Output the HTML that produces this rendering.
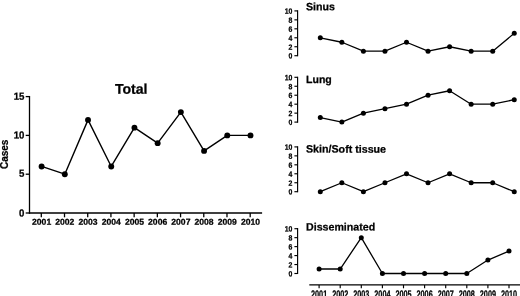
<!DOCTYPE html><html><head><meta charset="utf-8"><title>Cases by year</title><style>html,body{margin:0;padding:0;background:#fff}svg{display:block;filter:grayscale(1)}text{font-family:"Liberation Sans",sans-serif;font-weight:bold;fill:#000;stroke:#000;stroke-width:.25px}</style></head><body>
<svg width="520" height="296" viewBox="0 0 520 296">
<rect width="520" height="296" fill="#fff"/>
<line x1="29.5" y1="95.95" x2="29.5" y2="213.65" stroke="#000" stroke-width="1.3"/>
<line x1="25.7" y1="213" x2="29.5" y2="213" stroke="#000" stroke-width="1.3"/>
<text transform="translate(24.5,216.4) rotate(0.05) scale(0.94,1)" font-size="10.3" text-anchor="end">0</text>
<line x1="25.7" y1="174.2" x2="29.5" y2="174.2" stroke="#000" stroke-width="1.3"/>
<text transform="translate(24.5,176.7) rotate(0.05) scale(0.94,1)" font-size="10.3" text-anchor="end">5</text>
<line x1="25.7" y1="135.4" x2="29.5" y2="135.4" stroke="#000" stroke-width="1.3"/>
<text transform="translate(24.5,138.6) rotate(0.05) scale(0.94,1)" font-size="10.3" text-anchor="end">10</text>
<line x1="25.7" y1="96.6" x2="29.5" y2="96.6" stroke="#000" stroke-width="1.3"/>
<text transform="translate(24.5,99.8) rotate(0.05) scale(0.94,1)" font-size="10.3" text-anchor="end">15</text>
<line x1="28.85" y1="213" x2="262.1" y2="213" stroke="#000" stroke-width="1.3"/>
<line x1="41.3" y1="213" x2="41.3" y2="217.3" stroke="#000" stroke-width="1.3"/>
<text transform="translate(41.6,224.8) rotate(0.05)" font-size="8.6" text-anchor="middle">2001</text>
<line x1="64.51" y1="213" x2="64.51" y2="217.3" stroke="#000" stroke-width="1.3"/>
<text transform="translate(64.81,224.8) rotate(0.05)" font-size="8.6" text-anchor="middle">2002</text>
<line x1="87.72" y1="213" x2="87.72" y2="217.3" stroke="#000" stroke-width="1.3"/>
<text transform="translate(88.02,224.8) rotate(0.05)" font-size="8.6" text-anchor="middle">2003</text>
<line x1="110.93" y1="213" x2="110.93" y2="217.3" stroke="#000" stroke-width="1.3"/>
<text transform="translate(111.23,224.8) rotate(0.05)" font-size="8.6" text-anchor="middle">2004</text>
<line x1="134.14" y1="213" x2="134.14" y2="217.3" stroke="#000" stroke-width="1.3"/>
<text transform="translate(134.44,224.8) rotate(0.05)" font-size="8.6" text-anchor="middle">2005</text>
<line x1="157.35" y1="213" x2="157.35" y2="217.3" stroke="#000" stroke-width="1.3"/>
<text transform="translate(157.65,224.8) rotate(0.05)" font-size="8.6" text-anchor="middle">2006</text>
<line x1="180.56" y1="213" x2="180.56" y2="217.3" stroke="#000" stroke-width="1.3"/>
<text transform="translate(180.86,224.8) rotate(0.05)" font-size="8.6" text-anchor="middle">2007</text>
<line x1="203.77" y1="213" x2="203.77" y2="217.3" stroke="#000" stroke-width="1.3"/>
<text transform="translate(204.07,224.8) rotate(0.05)" font-size="8.6" text-anchor="middle">2008</text>
<line x1="226.98" y1="213" x2="226.98" y2="217.3" stroke="#000" stroke-width="1.3"/>
<text transform="translate(227.28,224.8) rotate(0.05)" font-size="8.6" text-anchor="middle">2009</text>
<line x1="250.19" y1="213" x2="250.19" y2="217.3" stroke="#000" stroke-width="1.3"/>
<text transform="translate(250.49,224.8) rotate(0.05)" font-size="8.6" text-anchor="middle">2010</text>
<polyline fill="none" stroke="#000" stroke-width="1.4" stroke-linejoin="round" points="41.6,166.44 64.81,174.2 88.02,119.88 111.23,166.44 134.44,127.64 157.65,143.16 180.86,112.12 204.07,150.92 227.28,135.4 250.49,135.4"/>
<circle cx="41.6" cy="166.44" r="2.95"/>
<circle cx="64.81" cy="174.2" r="2.95"/>
<circle cx="88.02" cy="119.88" r="2.95"/>
<circle cx="111.23" cy="166.44" r="2.95"/>
<circle cx="134.44" cy="127.64" r="2.95"/>
<circle cx="157.65" cy="143.16" r="2.95"/>
<circle cx="180.86" cy="112.12" r="2.95"/>
<circle cx="204.07" cy="150.92" r="2.95"/>
<circle cx="227.28" cy="135.4" r="2.95"/>
<circle cx="250.49" cy="135.4" r="2.95"/>
<text transform="translate(131.2,93.8) rotate(0.05)" font-size="14.1" text-anchor="middle">Total</text>
<text transform="translate(7.5,154.3) rotate(-90)" font-size="10" text-anchor="middle">Cases</text>
<line x1="297.6" y1="10.32" x2="297.6" y2="56.28" stroke="#000" stroke-width="1.15"/>
<line x1="294.4" y1="55.7" x2="297.6" y2="55.7" stroke="#000" stroke-width="1.15"/>
<text transform="translate(292.4,58.6) rotate(0.05) scale(0.9,1)" font-size="7.7" text-anchor="end">0</text>
<line x1="294.4" y1="46.74" x2="297.6" y2="46.74" stroke="#000" stroke-width="1.15"/>
<text transform="translate(292.4,49.64) rotate(0.05) scale(0.9,1)" font-size="7.7" text-anchor="end">2</text>
<line x1="294.4" y1="37.78" x2="297.6" y2="37.78" stroke="#000" stroke-width="1.15"/>
<text transform="translate(292.4,40.68) rotate(0.05) scale(0.9,1)" font-size="7.7" text-anchor="end">4</text>
<line x1="294.4" y1="28.82" x2="297.6" y2="28.82" stroke="#000" stroke-width="1.15"/>
<text transform="translate(292.4,31.72) rotate(0.05) scale(0.9,1)" font-size="7.7" text-anchor="end">6</text>
<line x1="294.4" y1="19.86" x2="297.6" y2="19.86" stroke="#000" stroke-width="1.15"/>
<text transform="translate(292.4,22.76) rotate(0.05) scale(0.9,1)" font-size="7.7" text-anchor="end">8</text>
<line x1="294.4" y1="10.9" x2="297.6" y2="10.9" stroke="#000" stroke-width="1.15"/>
<text transform="translate(292.4,13.8) rotate(0.05) scale(0.9,1)" font-size="7.7" text-anchor="end">10</text>
<polyline fill="none" stroke="#000" stroke-width="1.3" stroke-linejoin="round" points="320.3,37.78 341.85,42.26 363.4,51.22 384.95,51.22 406.5,42.26 428.05,51.22 449.6,46.74 471.15,51.22 492.7,51.22 514.25,33.3"/>
<circle cx="320.3" cy="37.78" r="2.5"/>
<circle cx="341.85" cy="42.26" r="2.5"/>
<circle cx="363.4" cy="51.22" r="2.5"/>
<circle cx="384.95" cy="51.22" r="2.5"/>
<circle cx="406.5" cy="42.26" r="2.5"/>
<circle cx="428.05" cy="51.22" r="2.5"/>
<circle cx="449.6" cy="46.74" r="2.5"/>
<circle cx="471.15" cy="51.22" r="2.5"/>
<circle cx="492.7" cy="51.22" r="2.5"/>
<circle cx="514.25" cy="33.3" r="2.5"/>
<text transform="translate(306,10.3) rotate(0.05)" font-size="10.65" stroke-width="0.05">Sinus</text>
<line x1="297.6" y1="76.72" x2="297.6" y2="122.67" stroke="#000" stroke-width="1.15"/>
<line x1="294.4" y1="122.1" x2="297.6" y2="122.1" stroke="#000" stroke-width="1.15"/>
<text transform="translate(292.4,125) rotate(0.05) scale(0.9,1)" font-size="7.7" text-anchor="end">0</text>
<line x1="294.4" y1="113.14" x2="297.6" y2="113.14" stroke="#000" stroke-width="1.15"/>
<text transform="translate(292.4,116.04) rotate(0.05) scale(0.9,1)" font-size="7.7" text-anchor="end">2</text>
<line x1="294.4" y1="104.18" x2="297.6" y2="104.18" stroke="#000" stroke-width="1.15"/>
<text transform="translate(292.4,107.08) rotate(0.05) scale(0.9,1)" font-size="7.7" text-anchor="end">4</text>
<line x1="294.4" y1="95.22" x2="297.6" y2="95.22" stroke="#000" stroke-width="1.15"/>
<text transform="translate(292.4,98.12) rotate(0.05) scale(0.9,1)" font-size="7.7" text-anchor="end">6</text>
<line x1="294.4" y1="86.26" x2="297.6" y2="86.26" stroke="#000" stroke-width="1.15"/>
<text transform="translate(292.4,89.16) rotate(0.05) scale(0.9,1)" font-size="7.7" text-anchor="end">8</text>
<line x1="294.4" y1="77.3" x2="297.6" y2="77.3" stroke="#000" stroke-width="1.15"/>
<text transform="translate(292.4,80.2) rotate(0.05) scale(0.9,1)" font-size="7.7" text-anchor="end">10</text>
<polyline fill="none" stroke="#000" stroke-width="1.3" stroke-linejoin="round" points="320.3,117.62 341.85,122.1 363.4,113.14 384.95,108.66 406.5,104.18 428.05,95.22 449.6,90.74 471.15,104.18 492.7,104.18 514.25,99.7"/>
<circle cx="320.3" cy="117.62" r="2.5"/>
<circle cx="341.85" cy="122.1" r="2.5"/>
<circle cx="363.4" cy="113.14" r="2.5"/>
<circle cx="384.95" cy="108.66" r="2.5"/>
<circle cx="406.5" cy="104.18" r="2.5"/>
<circle cx="428.05" cy="95.22" r="2.5"/>
<circle cx="449.6" cy="90.74" r="2.5"/>
<circle cx="471.15" cy="104.18" r="2.5"/>
<circle cx="492.7" cy="104.18" r="2.5"/>
<circle cx="514.25" cy="99.7" r="2.5"/>
<text transform="translate(306,82.9) rotate(0.05)" font-size="10.55" stroke-width="0.05">Lung</text>
<line x1="297.6" y1="146.32" x2="297.6" y2="192.27" stroke="#000" stroke-width="1.15"/>
<line x1="294.4" y1="191.7" x2="297.6" y2="191.7" stroke="#000" stroke-width="1.15"/>
<text transform="translate(292.4,194.6) rotate(0.05) scale(0.9,1)" font-size="7.7" text-anchor="end">0</text>
<line x1="294.4" y1="182.74" x2="297.6" y2="182.74" stroke="#000" stroke-width="1.15"/>
<text transform="translate(292.4,185.64) rotate(0.05) scale(0.9,1)" font-size="7.7" text-anchor="end">2</text>
<line x1="294.4" y1="173.78" x2="297.6" y2="173.78" stroke="#000" stroke-width="1.15"/>
<text transform="translate(292.4,176.68) rotate(0.05) scale(0.9,1)" font-size="7.7" text-anchor="end">4</text>
<line x1="294.4" y1="164.82" x2="297.6" y2="164.82" stroke="#000" stroke-width="1.15"/>
<text transform="translate(292.4,167.72) rotate(0.05) scale(0.9,1)" font-size="7.7" text-anchor="end">6</text>
<line x1="294.4" y1="155.86" x2="297.6" y2="155.86" stroke="#000" stroke-width="1.15"/>
<text transform="translate(292.4,158.76) rotate(0.05) scale(0.9,1)" font-size="7.7" text-anchor="end">8</text>
<line x1="294.4" y1="146.9" x2="297.6" y2="146.9" stroke="#000" stroke-width="1.15"/>
<text transform="translate(292.4,149.8) rotate(0.05) scale(0.9,1)" font-size="7.7" text-anchor="end">10</text>
<polyline fill="none" stroke="#000" stroke-width="1.3" stroke-linejoin="round" points="320.3,191.7 341.85,182.74 363.4,191.7 384.95,182.74 406.5,173.78 428.05,182.74 449.6,173.78 471.15,182.74 492.7,182.74 514.25,191.7"/>
<circle cx="320.3" cy="191.7" r="2.5"/>
<circle cx="341.85" cy="182.74" r="2.5"/>
<circle cx="363.4" cy="191.7" r="2.5"/>
<circle cx="384.95" cy="182.74" r="2.5"/>
<circle cx="406.5" cy="173.78" r="2.5"/>
<circle cx="428.05" cy="182.74" r="2.5"/>
<circle cx="449.6" cy="173.78" r="2.5"/>
<circle cx="471.15" cy="182.74" r="2.5"/>
<circle cx="492.7" cy="182.74" r="2.5"/>
<circle cx="514.25" cy="191.7" r="2.5"/>
<text transform="translate(306,152.6) rotate(0.05)" font-size="10.68" stroke-width="0.05">Skin/Soft tissue</text>
<line x1="297.6" y1="228.12" x2="297.6" y2="274.07" stroke="#000" stroke-width="1.15"/>
<line x1="294.4" y1="273.5" x2="297.6" y2="273.5" stroke="#000" stroke-width="1.15"/>
<text transform="translate(292.4,276.4) rotate(0.05) scale(0.9,1)" font-size="7.7" text-anchor="end">0</text>
<line x1="294.4" y1="264.54" x2="297.6" y2="264.54" stroke="#000" stroke-width="1.15"/>
<text transform="translate(292.4,267.44) rotate(0.05) scale(0.9,1)" font-size="7.7" text-anchor="end">2</text>
<line x1="294.4" y1="255.58" x2="297.6" y2="255.58" stroke="#000" stroke-width="1.15"/>
<text transform="translate(292.4,258.48) rotate(0.05) scale(0.9,1)" font-size="7.7" text-anchor="end">4</text>
<line x1="294.4" y1="246.62" x2="297.6" y2="246.62" stroke="#000" stroke-width="1.15"/>
<text transform="translate(292.4,249.52) rotate(0.05) scale(0.9,1)" font-size="7.7" text-anchor="end">6</text>
<line x1="294.4" y1="237.66" x2="297.6" y2="237.66" stroke="#000" stroke-width="1.15"/>
<text transform="translate(292.4,240.56) rotate(0.05) scale(0.9,1)" font-size="7.7" text-anchor="end">8</text>
<line x1="294.4" y1="228.7" x2="297.6" y2="228.7" stroke="#000" stroke-width="1.15"/>
<text transform="translate(292.4,231.6) rotate(0.05) scale(0.9,1)" font-size="7.7" text-anchor="end">10</text>
<polyline fill="none" stroke="#000" stroke-width="1.3" stroke-linejoin="round" points="319.1,269.02 340.2,269.02 361.3,237.66 382.4,273.5 403.5,273.5 424.6,273.5 445.7,273.5 466.8,273.5 487.9,260.06 509,251.1"/>
<circle cx="319.1" cy="269.02" r="2.5"/>
<circle cx="340.2" cy="269.02" r="2.5"/>
<circle cx="361.3" cy="237.66" r="2.5"/>
<circle cx="382.4" cy="273.5" r="2.5"/>
<circle cx="403.5" cy="273.5" r="2.5"/>
<circle cx="424.6" cy="273.5" r="2.5"/>
<circle cx="445.7" cy="273.5" r="2.5"/>
<circle cx="466.8" cy="273.5" r="2.5"/>
<circle cx="487.9" cy="260.06" r="2.5"/>
<circle cx="509" cy="251.1" r="2.5"/>
<text transform="translate(306,230.5) rotate(0.05)" font-size="10.65" stroke-width="0.05">Disseminated</text>
<line x1="309.3" y1="284.9" x2="520" y2="284.9" stroke="#000" stroke-width="1.15"/>
<line x1="319.1" y1="284.9" x2="319.1" y2="288.3" stroke="#000" stroke-width="1.15"/>
<text transform="translate(319.1,297.9) rotate(0.05) scale(0.66,1)" font-size="11" text-anchor="middle" stroke-width="0">2001</text>
<line x1="340.2" y1="284.9" x2="340.2" y2="288.3" stroke="#000" stroke-width="1.15"/>
<text transform="translate(340.2,297.9) rotate(0.05) scale(0.66,1)" font-size="11" text-anchor="middle" stroke-width="0">2002</text>
<line x1="361.3" y1="284.9" x2="361.3" y2="288.3" stroke="#000" stroke-width="1.15"/>
<text transform="translate(361.3,297.9) rotate(0.05) scale(0.66,1)" font-size="11" text-anchor="middle" stroke-width="0">2003</text>
<line x1="382.4" y1="284.9" x2="382.4" y2="288.3" stroke="#000" stroke-width="1.15"/>
<text transform="translate(382.4,297.9) rotate(0.05) scale(0.66,1)" font-size="11" text-anchor="middle" stroke-width="0">2004</text>
<line x1="403.5" y1="284.9" x2="403.5" y2="288.3" stroke="#000" stroke-width="1.15"/>
<text transform="translate(403.5,297.9) rotate(0.05) scale(0.66,1)" font-size="11" text-anchor="middle" stroke-width="0">2005</text>
<line x1="424.6" y1="284.9" x2="424.6" y2="288.3" stroke="#000" stroke-width="1.15"/>
<text transform="translate(424.6,297.9) rotate(0.05) scale(0.66,1)" font-size="11" text-anchor="middle" stroke-width="0">2006</text>
<line x1="445.7" y1="284.9" x2="445.7" y2="288.3" stroke="#000" stroke-width="1.15"/>
<text transform="translate(445.7,297.9) rotate(0.05) scale(0.66,1)" font-size="11" text-anchor="middle" stroke-width="0">2007</text>
<line x1="466.8" y1="284.9" x2="466.8" y2="288.3" stroke="#000" stroke-width="1.15"/>
<text transform="translate(466.8,297.9) rotate(0.05) scale(0.66,1)" font-size="11" text-anchor="middle" stroke-width="0">2008</text>
<line x1="487.9" y1="284.9" x2="487.9" y2="288.3" stroke="#000" stroke-width="1.15"/>
<text transform="translate(487.9,297.9) rotate(0.05) scale(0.66,1)" font-size="11" text-anchor="middle" stroke-width="0">2009</text>
<line x1="509" y1="284.9" x2="509" y2="288.3" stroke="#000" stroke-width="1.15"/>
<text transform="translate(509,297.9) rotate(0.05) scale(0.66,1)" font-size="11" text-anchor="middle" stroke-width="0">2010</text>
</svg></body></html>
